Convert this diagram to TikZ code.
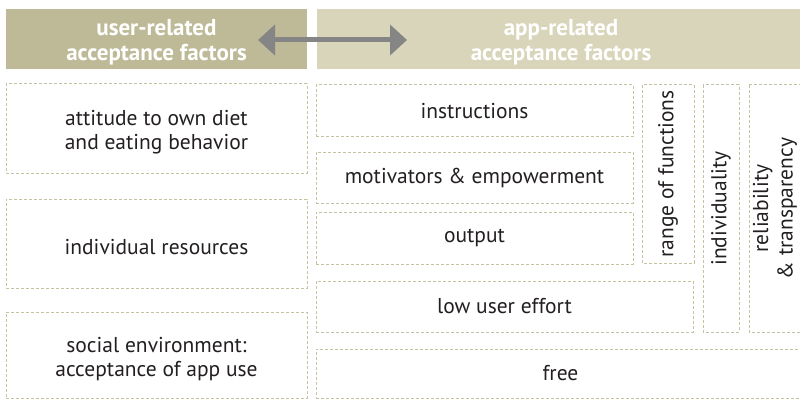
\documentclass[tikz,border=0pt]{standalone}
\usepackage{fontspec}
\setmainfont{PT Sans}
\usetikzlibrary{arrows.meta}

\definecolor{khaki}{HTML}{BEBA97}
\definecolor{khakilight}{HTML}{D9D5BA}
\definecolor{dashline}{HTML}{C6C29F}
\definecolor{arrowgray}{HTML}{858585}
\definecolor{textblack}{HTML}{231F20}

% tall strut on the first line, pushes the text a little down in its box
\newcommand{\dropline}{\rule{0pt}{23pt}}

\tikzset{
  header/.style={fill=#1,draw=none,inner sep=0pt,outer sep=0pt,text=white,
    align=center,font=\fontsize{23}{25}\selectfont\bfseries},
  factor/.style={draw=dashline,dash pattern=on 3pt off 2pt,line width=1pt,
    inner sep=0pt,outer sep=0pt,align=center,text=textblack,
    font=\fontsize{21.5}{24.5}\selectfont},
  factorv/.style={factor,rotate=90}
}

\begin{document}
\begin{tikzpicture}[x=1pt,y=-1pt]
\useasboundingbox (0,0) rectangle (800,401);

%Headers of the two groups
    \node[header=khaki,minimum width=301pt,minimum height=60pt] (hdruser) at (156.5,39) {\dropline user-related\\acceptance factors};
    \node[header=khakilight,minimum width=488pt,minimum height=60pt] (hdrapp) at (561,39) {\dropline app-related\\acceptance factors};

%Left column, user-related
    \node[factor,minimum width=301pt,minimum height=89pt] (attitude) at (156.5,128.5) {\dropline attitude to own diet\\and eating behavior};
    \node[factor,minimum width=301pt,minimum height=89pt] (resources) at (156.5,243.5) {\dropline individual resources};
    \node[factor,minimum width=301pt,minimum height=86pt] (social) at (156.5,355) {\dropline social environment:\\acceptance of app use};

%Right block, app-related
    \node[factor,minimum width=317pt,minimum height=52pt] (instructions) at (474.5,111) {instructions};
    \node[factor,minimum width=317pt,minimum height=51pt] (motivators) at (474.5,177.5) {motivators \& empowerment};
    \node[factor,minimum width=317pt,minimum height=52pt] (output) at (474.5,238) {output};
    \node[factor,minimum width=377pt,minimum height=51pt] (effort) at (504.5,306.5) {low user effort};
    \node[factor,minimum width=489pt,minimum height=49pt] (free) at (560.5,373.5) {free};

%Vertical boxes
    \node[factorv,minimum width=178pt,minimum height=52pt] (range) at (668,174) {range of functions};
    \node[factorv,minimum width=247pt,minimum height=36pt] (individuality) at (721,208.5) {individuality};
    \node[factorv,minimum width=247pt,minimum height=52pt] (reliability) at (775,208.5) {reliability\\\& transparency};

%Double arrow between the headers
    \coordinate (userend) at (258,40);
    \coordinate (append) at (407,40);
    \draw[arrowgray,line width=5pt,{Triangle[width=30pt,length=17pt]}-{Triangle[width=30pt,length=17pt]}] (userend) -- (append);
\end{tikzpicture}
\end{document}
